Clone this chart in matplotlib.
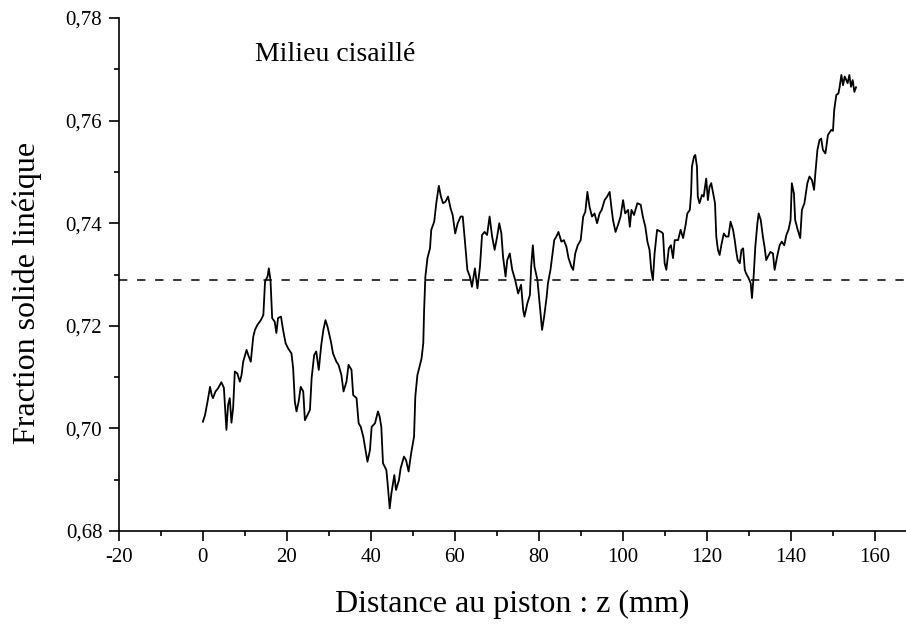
import numpy as np
import matplotlib
matplotlib.use("Agg")
import matplotlib.pyplot as plt
from matplotlib.ticker import MultipleLocator, FuncFormatter

# distance from piston (mm) and linear solid fraction
z = [0.0, 0.5, 1.1, 1.7, 2.1, 2.4, 3.0, 3.6, 4.4, 5.0, 5.6, 6.0, 6.4, 6.8, 7.2,
     7.6, 8.2, 8.8, 9.2, 9.6, 10.4, 10.8, 11.4, 12.0, 12.4, 13.0, 13.8, 14.4,
     14.8, 15.4, 15.7, 16.1, 16.5, 17.1, 17.5, 17.9, 18.6, 19.1, 19.7, 20.3,
     21.1, 21.5, 21.9, 22.3, 22.8, 23.3, 23.9, 24.3, 24.9, 25.5, 25.9, 26.5,
     27.0, 27.6, 28.2, 28.7, 29.2, 29.7, 30.5, 31.0, 31.8, 32.3, 33.0, 33.5,
     34.2, 34.7, 35.4, 35.8,
     36.6, 37.1, 37.6, 38.2, 38.6, 39.2, 39.8, 40.2, 41.0, 41.7, 42.1, 42.5,
     42.9, 43.7, 44.0, 44.5, 44.9, 45.6, 46.0, 46.7, 47.1, 47.9, 48.4, 49.0,
     49.6, 50.3, 50.6, 51.1, 51.6, 52.1, 52.5, 52.7, 53.0, 53.5, 54.1, 54.4,
     55.1, 55.6, 56.2, 56.7, 57.2, 57.8, 58.4, 59.0, 59.5, 60.1, 60.7, 61.4,
     61.9, 62.4, 63.0, 63.6, 64.1, 64.8, 65.4, 66.0, 66.5, 67.1, 67.7, 68.3,
     68.9, 69.5, 70.1, 70.6, 71.1, 71.5, 72.1, 72.5, 73.1, 73.7,
     74.4, 75.1, 75.8, 76.3, 76.6, 77.3, 77.9, 78.2, 78.6, 79.0, 79.7, 80.2,
     80.8, 81.3, 81.9, 82.2, 82.8, 83.2, 83.7, 84.2, 84.7, 85.4, 86.0, 86.6,
     87.1, 87.8, 88.2, 88.7, 89.3, 90.0, 90.6, 91.1, 91.6, 92.1, 92.7, 93.3,
     93.9, 94.5, 95.0, 95.7, 96.3, 96.9, 97.3, 97.7, 98.3, 98.9, 99.5, 100.1,
     100.6, 101.3, 101.7, 102.1, 102.7, 103.5, 104.3, 104.8, 105.4, 105.9,
     106.4, 106.8, 107.2, 107.6, 108.2, 109.2, 109.6, 110.0, 110.4, 111.0,
     111.5, 112.0, 112.4, 113.2, 113.8, 114.4, 115.0,
     115.4, 116.0, 116.3, 116.5, 117.0, 117.3, 117.7, 117.9, 118.3, 118.9,
     119.3, 119.9, 120.3, 120.7, 121.1, 121.7, 122.0, 122.3, 122.7, 123.1,
     123.5, 124.1, 124.6, 125.2, 125.7, 126.3, 126.7, 127.0, 127.4, 127.9,
     128.3, 128.7, 129.1, 129.4, 130.0, 130.5, 130.8, 131.2, 131.6, 132.1,
     132.4, 132.9, 133.4, 133.8, 134.2, 134.6, 135.2, 135.8, 136.2, 136.8,
     137.4, 137.9, 138.5, 139.0, 139.5, 140.0, 140.3, 140.8, 141.1, 141.7,
     142.3, 142.7, 143.3, 144.0, 144.5, 145.1, 145.6, 145.9, 146.4, 146.9,
     147.3, 147.7, 148.3, 148.9, 149.7, 150.1, 150.4, 150.9, 151.4, 151.7,
     152.1, 152.5, 152.9, 153.6, 154.0, 154.4, 154.8, 155.2, 155.6]

fs = [0.7013, 0.7026, 0.7052, 0.7081, 0.7065, 0.7059, 0.7072, 0.7078, 0.7090,
      0.7079, 0.6997, 0.7046, 0.7059, 0.7011, 0.7040, 0.7111, 0.7107, 0.7091,
      0.7104, 0.7130, 0.7153, 0.7143, 0.7130, 0.7179, 0.7192, 0.7202, 0.7211,
      0.7221, 0.7286, 0.7296, 0.7312, 0.7289, 0.7215, 0.7208, 0.7186, 0.7215,
      0.7218, 0.7192, 0.7166, 0.7156, 0.7146, 0.7117, 0.7052, 0.7033, 0.7052,
      0.7081, 0.7072, 0.7016, 0.7026, 0.7036, 0.7098, 0.7143, 0.7150, 0.7114,
      0.7163, 0.7192, 0.7211, 0.7198, 0.7169, 0.7146, 0.7130, 0.7124, 0.7104,
      0.7072, 0.7091, 0.7124, 0.7114, 0.7065,
      0.7059, 0.7010, 0.7003, 0.6984, 0.6964, 0.6935, 0.6958, 0.7003, 0.7010,
      0.7033, 0.7023, 0.7003, 0.6932, 0.6919, 0.6893, 0.6844, 0.6873, 0.6909,
      0.6880, 0.6899, 0.6922, 0.6945, 0.6938, 0.6916, 0.6951, 0.6984, 0.7062,
      0.7104, 0.7120, 0.7137, 0.7166, 0.7231, 0.7296, 0.7332, 0.7351, 0.7387,
      0.7403, 0.7439, 0.7473, 0.7452, 0.7439, 0.7442, 0.7452, 0.7429, 0.7416,
      0.7380, 0.7400, 0.7413, 0.7413, 0.7367, 0.7309, 0.7296, 0.7276, 0.7312,
      0.7273, 0.7315, 0.7377, 0.7383, 0.7377, 0.7413, 0.7374, 0.7348, 0.7374,
      0.7400, 0.7380, 0.7335, 0.7296, 0.7328, 0.7341, 0.7309,
      0.7289, 0.7263, 0.7280, 0.7231, 0.7218, 0.7244, 0.7260, 0.7315, 0.7357,
      0.7315, 0.7289, 0.7244, 0.7192, 0.7218, 0.7257, 0.7283, 0.7309, 0.7335,
      0.7367, 0.7374, 0.7383, 0.7364, 0.7367, 0.7354, 0.7332, 0.7315, 0.7309,
      0.7341, 0.7357, 0.7367, 0.7413, 0.7422, 0.7461, 0.7432, 0.7413, 0.7419,
      0.7400, 0.7419, 0.7426, 0.7445, 0.7452, 0.7461, 0.7432, 0.7406, 0.7383,
      0.7397, 0.7413, 0.7445, 0.7419, 0.7426, 0.7393, 0.7426, 0.7416, 0.7439,
      0.7436, 0.7413, 0.7393, 0.7364, 0.7348, 0.7309, 0.7289, 0.7341, 0.7387,
      0.7383, 0.7380, 0.7322, 0.7309, 0.7351, 0.7357, 0.7332, 0.7367, 0.7367,
      0.7387, 0.7371, 0.7397,
      0.7419, 0.7426, 0.7458, 0.7510, 0.7530, 0.7533, 0.7510, 0.7452, 0.7439,
      0.7455, 0.7452, 0.7487, 0.7445, 0.7471, 0.7478, 0.7452, 0.7439, 0.7374,
      0.7348, 0.7338, 0.7357, 0.7380, 0.7374, 0.7374, 0.7403, 0.7387, 0.7367,
      0.7348, 0.7328, 0.7322, 0.7348, 0.7351, 0.7309, 0.7302, 0.7293, 0.7283,
      0.7254, 0.7296, 0.7354, 0.7400, 0.7419, 0.7406, 0.7374, 0.7354, 0.7328,
      0.7335, 0.7344, 0.7341, 0.7309, 0.7335, 0.7357, 0.7364, 0.7357, 0.7377,
      0.7387, 0.7406, 0.7478, 0.7458, 0.7406, 0.7387, 0.7371, 0.7426, 0.7439,
      0.7478, 0.7491, 0.7484, 0.7465, 0.7497, 0.7543, 0.7562, 0.7565, 0.7543,
      0.7536, 0.7572, 0.7582, 0.7580, 0.7621, 0.7650, 0.7653, 0.7666, 0.7689,
      0.7669, 0.7686, 0.7673, 0.7689, 0.7666, 0.7679, 0.7656, 0.7665]

mean_fs = 0.729   # dashed reference level

plt.rcParams['font.family'] = ['Liberation Serif', 'DejaVu Serif']
plt.rcParams['lines.scale_dashes'] = False


def comma(v, pos):
    s = "%g" % v
    if abs(v) < 1 and v != 0:
        s = "%.2f" % v
    return s.replace(".", ",")


def main():
    fig = plt.figure(figsize=(9.06, 6.26), dpi=100)
    ax = fig.add_axes([0.1313, 0.1518, 0.8687, 0.8194])

    ax.plot(z, fs, color='black', lw=1.3)
    ax.axhline(mean_fs, color='black', lw=1.1, dashes=(6, 7))

    ax.set_xlim(-20, 167.5)
    ax.set_ylim(0.68, 0.78)
    ax.spines['top'].set_visible(False)
    ax.spines['right'].set_visible(False)
    ax.spines['left'].set_linewidth(1.2)
    ax.spines['bottom'].set_linewidth(1.2)

    ax.xaxis.set_major_locator(MultipleLocator(20))
    ax.xaxis.set_minor_locator(MultipleLocator(10))
    ax.yaxis.set_major_locator(MultipleLocator(0.02))
    ax.yaxis.set_minor_locator(MultipleLocator(0.01))
    ax.xaxis.set_major_formatter(FuncFormatter(comma))
    ax.yaxis.set_major_formatter(FuncFormatter(comma))
    ax.tick_params(which='major', direction='out', length=7, width=1.2,
                   labelsize=15, pad=5)
    ax.tick_params(which='minor', direction='out', length=3.5, width=1.2)

    ax.set_xlabel("Distance au piston : z (mm)", fontsize=23)
    ax.set_ylabel("Fraction solide linéique", fontsize=23)
    ax.xaxis.set_label_coords(0.5, -0.115)
    ax.yaxis.set_label_coords(-0.098, 0.464)

    ax.text(12.4, 0.7728, "Milieu cisaillé", fontsize=20, va='center')

    fig.savefig("out.png", dpi=100)


if __name__ == "__main__":
    main()
